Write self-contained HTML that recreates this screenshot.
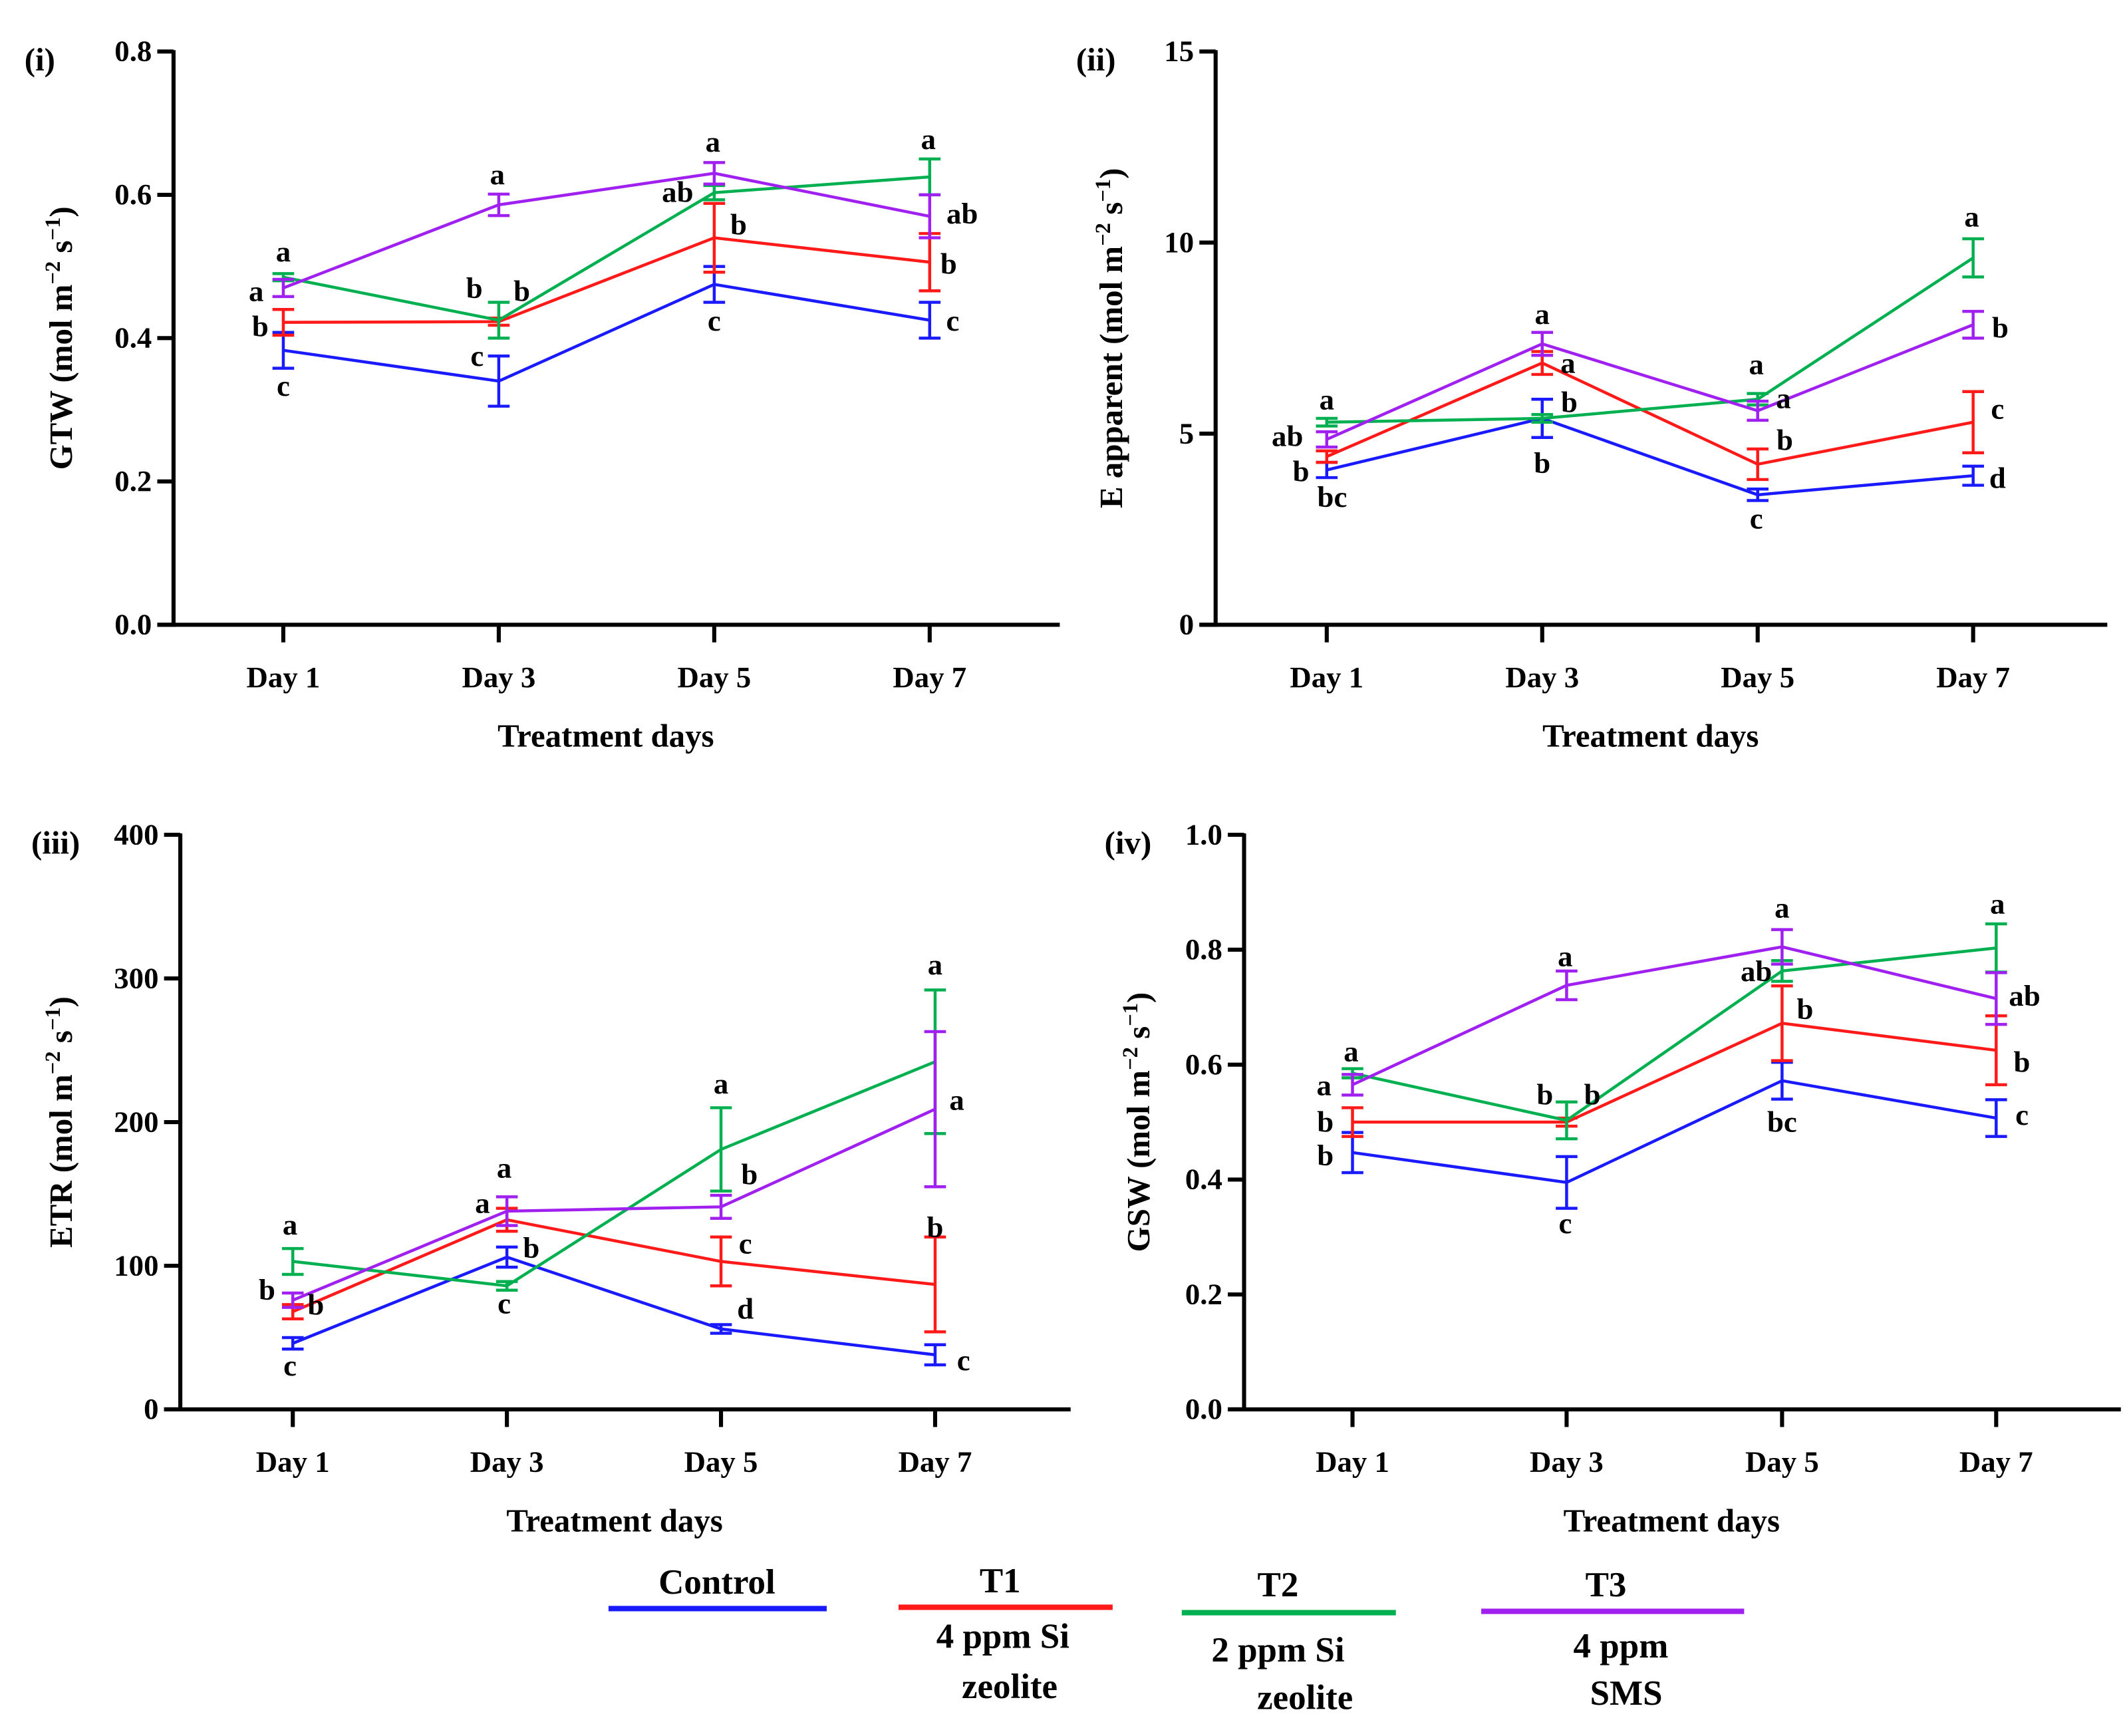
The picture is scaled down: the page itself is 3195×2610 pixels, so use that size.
<!DOCTYPE html>
<html><head><meta charset="utf-8"><style>
html,body{margin:0;padding:0;background:#fff;}
svg{display:block;font-family:"Liberation Serif",serif;font-weight:bold;}
</style></head><body>
<svg id="fig" width="3195" height="2610" viewBox="0 0 1568 1281" xmlns="http://www.w3.org/2000/svg"></svg>
<script>
const days = ["Day 1","Day 3","Day 5","Day 7"];
const seriesNames = ["Control","T1","T2","T3"];
const colors = ["#1a1aff","#ff1a1a","#00b050","#a020f0"];
// Panel (i) GTW
const gtwCtrl=[0.383,0.340,0.475,0.425], gtwCtrlErr=[0.025,0.035,0.025,0.025];
const gtwT1=[0.422,0.423,0.540,0.506], gtwT1Err=[0.018,0.005,0.048,0.040];
const gtwT2=[0.485,0.425,0.603,0.625], gtwT2Err=[0.005,0.025,0.010,0.025];
const gtwT3=[0.470,0.586,0.630,0.570], gtwT3Err=[0.012,0.015,0.015,0.030];
const gtwTicks=["0.0","0.2","0.4","0.6","0.8"];
// Panel (ii) E apparent
const eCtrl=[4.05,5.4,3.4,3.9], eCtrlErr=[0.2,0.5,0.15,0.25];
const eT1=[4.4,6.85,4.2,5.3], eT1Err=[0.15,0.3,0.4,0.8];
const eT2=[5.3,5.4,5.9,9.6], eT2Err=[0.1,0.1,0.15,0.5];
const eT3=[4.85,7.35,5.6,7.85], eT3Err=[0.2,0.3,0.25,0.35];
const eTicks=["0","5","10","15"];
// Panel (iii) ETR
const etrCtrl=[46,106,56,38], etrCtrlErr=[4,7,3,7];
const etrT1=[68,132,103,87], etrT1Err=[5,8,17,33];
const etrT2=[103,86,181,242], etrT2Err=[9,3,29,50];
const etrT3=[76,138,141,209], etrT3Err=[5,10,8,54];
const etrTicks=["0","100","200","300","400"];
// Panel (iv) GSW
const gswCtrl=[0.447,0.395,0.572,0.507], gswCtrlErr=[0.035,0.045,0.032,0.032];
const gswT1=[0.500,0.500,0.672,0.625], gswT1Err=[0.025,0.007,0.065,0.060];
const gswT2=[0.585,0.503,0.763,0.803], gswT2Err=[0.008,0.032,0.018,0.042];
const gswT3=[0.565,0.738,0.805,0.715], gswT3Err=[0.018,0.025,0.030,0.045];
const gswTicks=["0.0","0.2","0.4","0.6","0.8","1.0"];

const NS="http://www.w3.org/2000/svg";
const svg=document.getElementById('fig');
function el(tag,attrs,parent,text){const e=document.createElementNS(NS,tag);for(const k in attrs)e.setAttribute(k,attrs[k]);if(text!==undefined)e.textContent=text;(parent||svg).appendChild(e);return e;}

const panels=[
 {id:"gtw",tag:"(i)",ax:128,top:38,bot:461,right:782,dx:[209,368,527,686],max:0.8,ticks:gtwTicks,
  ser:[[gtwCtrl,gtwCtrlErr],[gtwT1,gtwT1Err],[gtwT2,gtwT2Err],[gtwT3,gtwT3Err]],ylab:"GTW",ylx:45,
  letters:[[209,186,"a"],[189,215,"a"],[192,241,"b"],[209,285,"c"],[367,129,"a"],[350,213,"b"],[385,215,"b"],[352,263,"c"],[526,105,"a"],[500,142,"ab"],[545,166,"b"],[527,237,"c"],[685,103,"a"],[710,158,"ab"],[700,195,"b"],[703,237,"c"]]},
 {id:"e",tag:"(ii)",ax:897,top:38,bot:461,right:1555,dx:[979,1138,1297,1456],max:15,ticks:eTicks,
  ser:[[eCtrl,eCtrlErr],[eT1,eT1Err],[eT2,eT2Err],[eT3,eT3Err]],ylab:"E apparent",ylx:820,
  letters:[[979,295,"a"],[950,322,"ab"],[960,348,"b"],[983,367,"bc"],[1138,232,"a"],[1157,268,"a"],[1158,297,"b"],[1138,342,"b"],[1296,269,"a"],[1316,294,"a"],[1317,325,"b"],[1296,383,"c"],[1455,160,"a"],[1476,242,"b"],[1474,302,"c"],[1474,353,"d"]]},
 {id:"etr",tag:"(iii)",ax:133,top:616,bot:1040,right:790,dx:[216,374,532,690],max:400,ticks:etrTicks,
  ser:[[etrCtrl,etrCtrlErr],[etrT1,etrT1Err],[etrT2,etrT2Err],[etrT3,etrT3Err]],ylab:"ETR",ylx:45,
  letters:[[214,904,"a"],[197,952,"b"],[233,963,"b"],[214,1008,"c"],[372,862,"a"],[356,888,"a"],[392,921,"b"],[372,962,"c"],[532,800,"a"],[553,867,"b"],[550,918,"c"],[550,966,"d"],[690,712,"a"],[706,812,"a"],[690,906,"b"],[711,1004,"c"]]},
 {id:"gsw",tag:"(iv)",ax:918,top:616,bot:1040,right:1565,dx:[998,1156,1315,1473],max:1.0,ticks:gswTicks,
  ser:[[gswCtrl,gswCtrlErr],[gswT1,gswT1Err],[gswT2,gswT2Err],[gswT3,gswT3Err]],ylab:"GSW",ylx:840,
  letters:[[997,776,"a"],[977,801,"a"],[978,828,"b"],[978,853,"b"],[1155,706,"a"],[1140,808,"b"],[1175,808,"b"],[1155,903,"c"],[1315,670,"a"],[1296,717,"ab"],[1332,745,"b"],[1315,828,"bc"],[1474,667,"a"],[1494,735,"ab"],[1492,784,"b"],[1492,823,"c"]]}
];

panels.forEach(p=>{
  const g=el('g',{});
  
  
  const y=v=>p.bot-(v/p.max)*(p.bot-p.top);
  const ya=el('line',{x1:p.ax,y1:p.top-1,x2:p.ax,y2:p.bot+1.5,stroke:"#000","stroke-width":3},g);
  
  const xa=el('line',{x1:p.ax-12,y1:p.bot,x2:p.right,y2:p.bot,stroke:"#000","stroke-width":3},g);
  
  p.ticks.forEach((t,i)=>{
    const v=p.max*i/(p.ticks.length-1);const yy=y(v);
    el('line',{x1:p.ax-12,y1:yy,x2:p.ax,y2:yy,stroke:"#000","stroke-width":3},g);
    const tl=el('text',{x:p.ax-16,y:yy+7,"text-anchor":"end","font-size":22},g,t);
    
  });
  days.forEach((d,i)=>{
    el('line',{x1:p.dx[i],y1:p.bot,x2:p.dx[i],y2:p.bot+13,stroke:"#000","stroke-width":3},g);
    const tl=el('text',{x:p.dx[i],y:p.bot+46,"text-anchor":"middle","font-size":22},g,d);
    
  });
  const xt=el('text',{x:(p.ax+p.right)/2-8,y:p.bot+90,"text-anchor":"middle","font-size":24},g,"Treatment days");
  
  const pt=el('text',{x:p.id==="e"||p.id==="gsw"?p.ax-103:p.ax-110,y:p.top+14,"font-size":24},g,p.tag);
  
  const cy=(p.top+p.bot)/2;
  const yt=el('text',{x:0,y:0,"text-anchor":"middle","font-size":24,transform:`translate(${p.ylx+8},${cy}) rotate(-90)`},g);
  
  el('tspan',{},yt,p.ylab+" (mol m");
  el('tspan',{"baseline-shift":"super","font-size":16},yt,"\u22122");
  el('tspan',{},yt," s");
  el('tspan',{"baseline-shift":"super","font-size":16},yt,"\u22121");
  el('tspan',{},yt,")");
  p.ser.forEach((s,si)=>{
    const vals=s[0],errs=s[1],c=colors[si];
    const sg=el('g',{},g);
    
    
    const pts=vals.map((v,i)=>p.dx[i]+","+y(v)).join(" ");
    const ln=el('polyline',{points:pts,fill:"none",stroke:c,"stroke-width":2.2},sg);
    
    
    vals.forEach((v,i)=>{
      const x=p.dx[i],y1=y(v+errs[i]),y2=y(v-errs[i]);
      const eb=el('path',{d:`M${x},${y1}V${y2}M${x-8},${y1}H${x+8}M${x-8},${y2}H${x+8}`,stroke:c,"stroke-width":2.2,fill:"none"},sg);
      
      
    });
  });
  p.letters.forEach(l=>{
    const t=el('text',{x:l[0],y:l[1]+7,"text-anchor":"middle","font-size":22},g,l[2]);
    
    
  });
});

const legend=el('g',{});


const legItems=[
 {x1:449,x2:610,y:1187,title:"Control",tx:529,ty:1176,sub:[]},
 {x1:663,x2:821,y:1186,title:"T1",tx:738,ty:1175,sub:[[740,1216,"4 ppm Si"],[745,1253,"zeolite"]]},
 {x1:872,x2:1030,y:1190,title:"T2",tx:943,ty:1178,sub:[[943,1226,"2 ppm Si"],[963,1261,"zeolite"]]},
 {x1:1093,x2:1287,y:1189,title:"T3",tx:1185,ty:1178,sub:[[1196,1223,"4 ppm"],[1200,1258,"SMS"]]}
];
legItems.forEach((it,i)=>{
  const lg=el('g',{},legend);
  
  
  el('line',{x1:it.x1,y1:it.y,x2:it.x2,y2:it.y,stroke:colors[i],"stroke-width":4},lg);
  el('text',{x:it.tx,y:it.ty,"text-anchor":"middle","font-size":26},lg,it.title);
  it.sub.forEach(s=>el('text',{x:s[0],y:s[1],"text-anchor":"middle","font-size":26},lg,s[2]));
});
</script>
</body></html>
